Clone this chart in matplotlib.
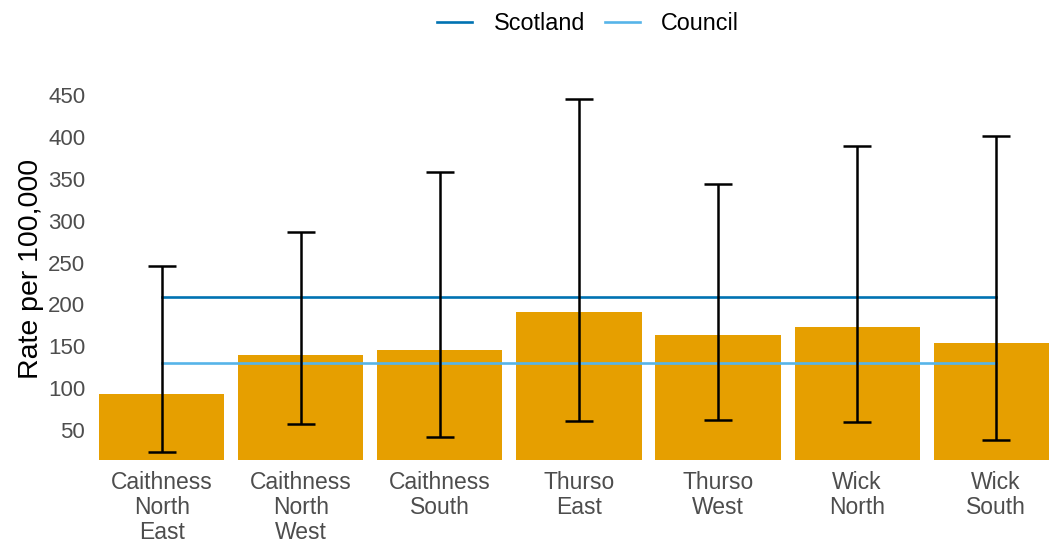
import matplotlib
matplotlib.use("Agg")
import matplotlib.pyplot as plt

plt.rcParams['font.family'] = ['Liberation Sans', 'DejaVu Sans']

# data
areas = ["Caithness\nNorth\nEast", "Caithness\nNorth\nWest", "Caithness\nSouth",
         "Thurso\nEast", "Thurso\nWest", "Wick\nNorth", "Wick\nSouth"]
rates = [92.6, 139.6, 145.5, 190.5, 163.8, 173.4, 153.5]
lower_ci = [23.4, 57.2, 41.6, 60.7, 62.3, 59.2, 38.0]
upper_ci = [246.2, 286.8, 358.0, 445.0, 343.7, 389.0, 401.0]
scotland_rate = 208.4
council_rate = 129.6
y_ticks = [50, 100, 150, 200, 250, 300, 350, 400, 450]

fig = plt.figure(figsize=(10.49, 5.44), dpi=100)
ax = fig.add_axes([95 / 1049, 1 - 460 / 544, 1 - 95 / 1049, (460 - 78.25) / 544])

x = list(range(len(areas)))
ax.bar(x, rates, width=0.9, color="#E69F00", zorder=1)

err_low = [r - lo for r, lo in zip(rates, lower_ci)]
err_high = [hi - r for r, hi in zip(rates, upper_ci)]
ax.errorbar(x, rates, yerr=[err_low, err_high], fmt="none", ecolor="black",
            elinewidth=1.8, capsize=10, capthick=1.8, zorder=3)

ax.plot([x[0], x[-1]], [scotland_rate] * 2, color="#0072B2", lw=1.9, label="Scotland", zorder=2)
ax.plot([x[0], x[-1]], [council_rate] * 2, color="#56B4E9", lw=1.9, label="Council", zorder=2)

ax.set_xlim(-0.48, 6.38)
ax.set_ylim(14.2, 470)
ax.set_yticks(y_ticks)
ax.set_xticks(x)
ax.set_xticklabels(areas, linespacing=1.1)
ax.tick_params(axis="both", length=0, labelcolor="#4d4d4d")
ax.tick_params(axis="x", pad=8, labelsize=16.5)
ax.tick_params(axis="y", pad=7, labelsize=16)
ax.set_ylabel("Rate per 100,000", fontsize=20.5, color="black", labelpad=3)
for s in ax.spines.values():
    s.set_visible(False)

fig.legend(loc="center", bbox_to_anchor=(588 / 1049, 1 - 24 / 544), ncol=2, frameon=False,
           fontsize=16.8, handlelength=1.5, handletextpad=0.9, columnspacing=0.85)

fig.savefig("out.png", dpi=100)
